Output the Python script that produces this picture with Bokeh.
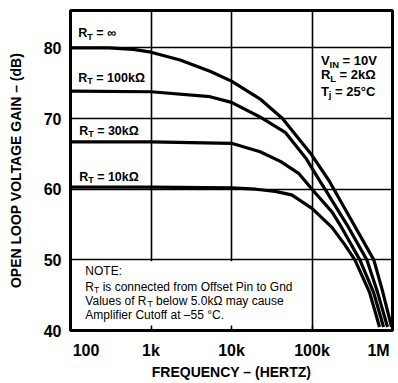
from bokeh.plotting import figure
from bokeh.models import FixedTicker, Range1d
from bokeh.core.properties import value
from bokeh.embed import file_html
from bokeh.resources import INLINE

# ---------------- data ----------------
freq_inf = [100, 300, 600, 1000, 2300, 5400, 10000, 22500, 43000, 100000,
            163000, 187000, 331000, 586000, 751000, 973000]
gain_inf = [80.0, 80.0, 79.8, 79.4, 78.3, 76.7, 75.3, 72.8, 70.0, 64.8,
            61.2, 60.0, 55.0, 50.0, 45.6, 40.5]

freq_100k = [100, 1000, 5400, 10000, 22000, 47000, 85000, 126000, 145000,
             271000, 480000, 652000, 867000]
gain_100k = [73.9, 73.8, 73.1, 72.3, 70.3, 68.0, 64.3, 61.1, 60.0,
             55.0, 50.0, 45.4, 40.5]

freq_30k = [100, 1000, 10000, 22700, 41000, 69000, 100000, 177000, 222000,
            393000, 582000, 774000]
gain_30k = [66.7, 66.7, 66.5, 65.3, 63.9, 62.2, 60.0, 56.8, 55.0,
            50.0, 45.4, 40.5]

freq_10k = [100, 1000, 10000, 20000, 35000, 56000, 100000, 177000, 250000,
            341000, 519000, 690000]
gain_10k = [60.3, 60.3, 60.2, 60.0, 59.7, 59.2, 57.3, 54.6, 52.3,
            50.0, 45.4, 40.5]

x_ticks = [100, 1000, 10000, 100000, 1000000]
x_tick_labels = ["100", "1k", "10k", "100k", "1M"]
y_ticks = [40, 50, 60, 70, 80]
x_grid = [1000, 10000, 100000]
y_grid = [50, 60, 70, 80]

FONT = "Liberation Sans"
NB = "\u00a0"

# Arial / Liberation Sans advance widths (em)
W_REG = {' ': .278, 'R': .722, 'T': .611, 'V': .667, 'a': .556, 'l': .222,
         'u': .556, 'e': .556, 's': .5, 'o': .556, 'f': .278}
W_BOLD = {' ': .278, 'R': .722, 'T': .611, 'V': .667, 'I': .278, 'N': .722,
          'L': .611, 'j': .278}


def text_width(t, bold, size):
    tab = W_BOLD if bold else W_REG
    return sum(tab.get(c, .556) for c in t) * size


p = figure(width=398, height=383, x_axis_type="log",
           x_range=Range1d(100, 1e6), y_range=Range1d(40, 85.3),
           output_backend="svg", toolbar_location=None,
           min_border_left=70, min_border_right=6,
           min_border_top=10, min_border_bottom=53,
           background_fill_color="white", border_fill_color="white")


def rich(x, y, parts, size, bold):
    off = 0.0
    for t, sub in parts:
        fs = size * 0.72 if sub else size
        body = t.lstrip(" ")
        lead = text_width(t[:len(t) - len(body)], bold, fs)
        p.text(x=[x], y=[y], text=[body], x_offset=off + lead,
               y_offset=(size * 0.3 if sub else 0),
               text_font=value(FONT), text_font_size=f"{fs:.1f}px",
               text_font_style="bold" if bold else "normal",
               text_baseline="middle", text_align="left", text_color="black")
        off += text_width(t, bold, fs)


# grid
p.xgrid.ticker = FixedTicker(ticks=x_grid)
p.ygrid.ticker = FixedTicker(ticks=y_grid)
for g in (p.xgrid, p.ygrid):
    g.grid_line_color = "black"
    g.grid_line_width = 1.6
    g.grid_line_alpha = 1.0

# white note box hiding the grid
p.quad(left=[100], right=[60000], bottom=[40.25], top=[49.82],
       fill_color="white", line_color=None)

# curves
for fx, gy in ((freq_inf, gain_inf), (freq_100k, gain_100k),
               (freq_30k, gain_30k), (freq_10k, gain_10k)):
    p.line(fx, gy, line_color="black", line_width=3.2, line_join="round")

# curve labels
rich(125, 82.1, [("R", False), ("T", True), (" = ∞", False)], 12.5, True)
rich(125, 75.8, [("R", False), ("T", True), (" = 100kΩ", False)], 12.5, True)
rich(128, 68.3, [("R", False), ("T", True), (" = 30kΩ", False)], 12.5, True)
rich(128, 61.8, [("R", False), ("T", True), (" = 10kΩ", False)], 12.5, True)

# conditions
rich(129000, 78.2, [("V", False), ("IN", True), (" = 10V", False)], 13, True)
rich(129000, 76.2, [("R", False), ("L", True), (" = 2kΩ", False)], 13, True)
rich(129000, 73.9, [("T", False), ("j", True), (" = 25°C", False)], 13, True)

# note
rich(153, 48.4, [("NOTE:", False)], 12, False)
rich(153, 46.2, [("R", False), ("T", True),
                 (" is connected from Offset Pin to Gnd", False)], 12, False)
rich(153, 44.2, [("Values of R", False), ("T", True),
                 (" below 5.0kΩ may cause", False)], 12, False)
rich(153, 42.2, [("Amplifier Cutoff at –55 °C.", False)], 12, False)

# axes
pads = {100: (7, 0), 1000000: (0, 2)}
p.xaxis.ticker = FixedTicker(ticks=x_ticks)
p.xaxis.major_label_overrides = {
    t: NB * pads.get(t, (0, 0))[0] + l + NB * pads.get(t, (0, 0))[1]
    for t, l in zip(x_ticks, x_tick_labels)}
p.yaxis.ticker = FixedTicker(ticks=y_ticks)
p.xaxis.axis_label = "FREQUENCY – (HERTZ)"
p.yaxis.axis_label = "OPEN LOOP VOLTAGE GAIN – (dB)"
for ax in (p.xaxis, p.yaxis):
    ax.axis_line_color = "black"
    ax.axis_line_width = 3
    ax.major_label_text_font = FONT
    ax.major_label_text_font_size = "16px"
    ax.major_label_text_font_style = "bold"
    ax.major_label_text_color = "black"
    ax.minor_tick_line_color = None
    ax.axis_label_text_font = FONT
    ax.axis_label_text_font_size = "14px"
    ax.axis_label_text_font_style = "bold"
    ax.axis_label_text_color = "black"
p.xaxis.major_tick_in = 5
p.xaxis.major_tick_out = 0
p.xaxis.major_tick_line_width = 1.5
p.xaxis.major_tick_line_color = "black"
p.xaxis.major_label_standoff = 11
p.xaxis.axis_label_standoff = 2
p.yaxis.major_tick_in = 0
p.yaxis.major_tick_out = 0
p.yaxis.major_label_standoff = 9
p.yaxis.axis_label_standoff = 17

p.outline_line_color = "black"
p.outline_line_width = 3
p.outline_line_alpha = 1.0

open("out.html", "w").write(file_html(p, INLINE))
